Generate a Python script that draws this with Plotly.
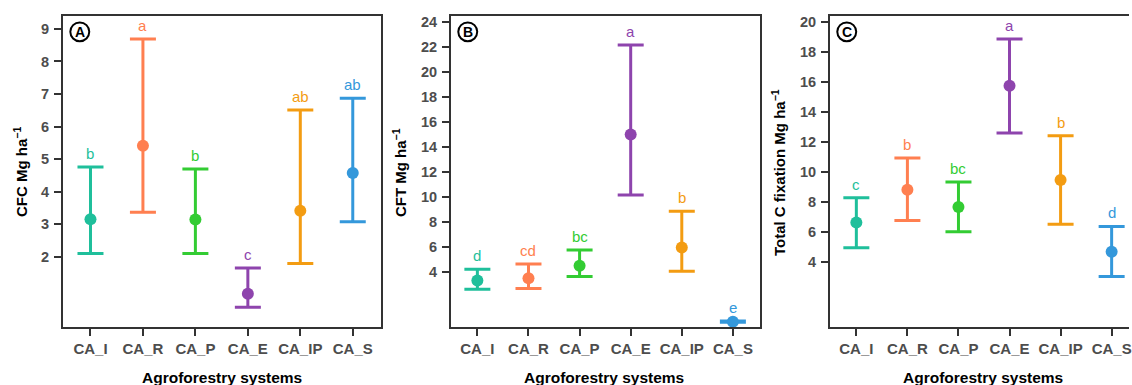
import plotly.graph_objects as go

# ---------------- data ----------------
cats = ["CA_I", "CA_R", "CA_P", "CA_E", "CA_IP", "CA_S"]
colors = ["#1FBF9B", "#FF7F50", "#33CC33", "#8E44AD", "#F39C12", "#3498DB"]

cfc_mean = [3.16, 5.41, 3.15, 0.87, 3.42, 4.58]
cfc_low = [2.11, 3.37, 2.11, 0.46, 1.80, 3.08]
cfc_high = [4.76, 8.69, 4.70, 1.66, 6.51, 6.87]
cfc_letters = ["b", "a", "b", "c", "ab", "ab"]

cft_mean = [3.34, 3.52, 4.53, 15.01, 5.99, 0.05]
cft_low = [2.65, 2.70, 3.66, 10.18, 4.08, 0.0]
cft_high = [4.24, 4.67, 5.78, 22.17, 8.88, 0.10]
cft_letters = ["d", "cd", "bc", "a", "b", "e"]

tc_mean = [6.65, 8.84, 7.69, 15.76, 9.48, 4.71]
tc_low = [4.97, 6.78, 6.03, 12.62, 6.54, 3.05]
tc_high = [8.31, 10.96, 9.35, 18.89, 12.44, 6.39]
tc_letters = ["c", "b", "bc", "a", "b", "d"]

cfc_ticks = [2, 3, 4, 5, 6, 7, 8, 9]
cft_ticks = [4, 6, 8, 10, 12, 14, 16, 18, 20, 22, 24]
tc_ticks = [4, 6, 8, 10, 12, 14, 16, 18, 20]

W, H = 1132, 385
FONT = "Liberation Sans, Arial, sans-serif"


def px(x):
    return x / W


def py(y):
    return 1 - y / H


panels = [
    dict(mean=cfc_mean, low=cfc_low, high=cfc_high, letters=cfc_letters,
         ticks=cfc_ticks, yrange=[-0.158, 9.397], xrange=[-0.527, 5.538],
         dom=[63, 382], ytitle="CFC Mg ha<sup>\u22121</sup>", ytx=20,
         label="A", xtitle_x=222.5, mirror_y=True),
    dict(mean=cft_mean, low=cft_low, high=cft_high, letters=cft_letters,
         ticks=cft_ticks, yrange=[-0.40, 24.50], xrange=[-0.52, 5.53],
         dom=[452, 762], ytitle="CFT Mg ha<sup>\u22121</sup>", ytx=400,
         label="B", xtitle_x=606, mirror_y=True),
    dict(mean=tc_mean, low=tc_low, high=tc_high, letters=tc_letters,
         ticks=tc_ticks, yrange=[-0.33, 20.42], xrange=[-0.52, 5.34],
         dom=[832, 1132], ytitle="Total C fixation Mg ha<sup>\u22121</sup>", ytx=780,
         label="C", xtitle_x=986, mirror_y=False),
]

fig = go.Figure()
annotations = []
shapes = []
layout = {}

TOP, BOT = 14, 327

for i, p in enumerate(panels):
    n = "" if i == 0 else str(i + 1)
    xa, ya = "x" + n, "y" + n
    for j, c in enumerate(cats):
        m = p["mean"][j]
        fig.add_trace(go.Scatter(
            x=[c], y=[m], mode="markers", xaxis=xa, yaxis=ya,
            marker=dict(color=colors[j], size=12),
            error_y=dict(type="data", symmetric=False,
                         array=[p["high"][j] - m], arrayminus=[m - p["low"][j]],
                         color=colors[j], thickness=3, width=13),
            showlegend=False, hoverinfo="skip"))
        annotations.append(dict(
            x=c, y=p["high"][j], xref=xa, yref=ya, text=p["letters"][j],
            showarrow=False, yanchor="bottom", yshift=3,
            font=dict(family=FONT, size=15, color=colors[j])))
    layout["xaxis" + n] = dict(
        domain=[px(p["dom"][0]), px(p["dom"][1])], anchor=ya,
        type="category", categoryorder="array", categoryarray=cats,
        range=p["xrange"], showline=True, linecolor="#333333", linewidth=1.5,
        mirror=True, ticks="outside", ticklen=7, tickwidth=2, tickcolor="#333333",
        tickfont=dict(family=FONT, size=15, color="#4D4D4D", weight="bold"),
        showgrid=False, zeroline=False, fixedrange=True, ticklabelstandoff=0)
    layout["yaxis" + n] = dict(
        domain=[py(BOT), py(TOP)], anchor=xa, range=p["yrange"],
        tickmode="array", tickvals=p["ticks"],
        showline=True, linecolor="#333333", linewidth=1.5, mirror=p["mirror_y"],
        ticks="outside", ticklen=7, tickwidth=2, tickcolor="#333333",
        tickfont=dict(family=FONT, size=14.5, color="#4D4D4D", weight="bold"),
        showgrid=False, zeroline=False, fixedrange=True, ticklabelstandoff=2)
    # y title
    annotations.append(dict(
        x=px(p["ytx"]), y=py(171), xref="paper", yref="paper", text=p["ytitle"],
        textangle=-90, showarrow=False, xanchor="center", yanchor="middle",
        font=dict(family=FONT, size=15, color="black", weight="bold")))
    # x title
    annotations.append(dict(
        x=px(p["xtitle_x"]), y=py(377), xref="paper", yref="paper",
        text="Agroforestry systems", showarrow=False, xanchor="center",
        yanchor="middle",
        font=dict(family=FONT, size=15.5, color="black", weight="bold")))
    # circled panel label
    cx, cy, r = p["dom"][0] + 17, 30, 9.5
    shapes.append(dict(type="circle", xref="paper", yref="paper",
                       x0=px(cx - r), x1=px(cx + r), y0=py(cy + r), y1=py(cy - r),
                       line=dict(color="black", width=2)))
    annotations.append(dict(
        x=px(cx), y=py(cy), xref="paper", yref="paper", text=p["label"],
        showarrow=False, xanchor="center", yanchor="middle",
        font=dict(family=FONT, size=14, color="black", weight="bold")))

fig.update_layout(
    width=W, height=H, margin=dict(l=0, r=0, t=0, b=0),
    paper_bgcolor="white", plot_bgcolor="white",
    annotations=annotations, shapes=shapes, **layout)

fig.write_html("out.html")
